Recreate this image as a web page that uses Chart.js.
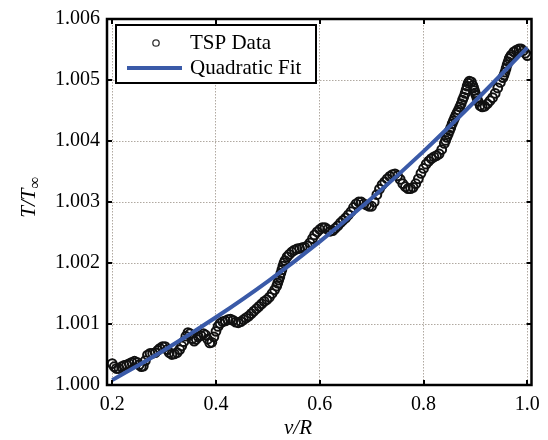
<!DOCTYPE html>
<html>
<head>
<meta charset="utf-8">
<script src="https://cdn.jsdelivr.net/npm/chart.js@4.4.1/dist/chart.umd.min.js"></script>
<style>
  html, body { margin: 0; padding: 0; background: #fff; }
  #wrap { width: 548px; height: 440px; position: relative; }
</style>
</head>
<body>
<div id="wrap"><canvas id="chart"></canvas></div>
<script>
/* ========================================
   T/T_inf vs v/R — TSP data + quadratic fit
   ======================================== */

const xTicks = [0.2, 0.4, 0.6, 0.8, 1.0];
const yTicks = [1.000, 1.001, 1.002, 1.003, 1.004, 1.005, 1.006];

// TSP data
const tspX = [
  0.200, 0.204, 0.208, 0.213, 0.218, 0.223, 0.228, 0.233, 0.238, 0.243,
  0.248, 0.252, 0.256, 0.260, 0.264, 0.268, 0.273, 0.278, 0.283, 0.288,
  0.292, 0.297, 0.302, 0.306, 0.310, 0.315, 0.320, 0.325, 0.330, 0.334,
  0.338, 0.342, 0.346, 0.350, 0.354, 0.358, 0.362, 0.366, 0.371, 0.376,
  0.380, 0.384, 0.388, 0.392, 0.396, 0.400, 0.404, 0.408, 0.413, 0.418,
  0.423, 0.428, 0.433, 0.438, 0.443, 0.448, 0.453, 0.458, 0.463, 0.468,
  0.473, 0.478, 0.483, 0.488, 0.493, 0.498, 0.503, 0.508, 0.513, 0.517,
  0.519, 0.521, 0.523, 0.525, 0.527, 0.529, 0.531, 0.533, 0.537, 0.541,
  0.546, 0.551, 0.556, 0.561,
  0.566, 0.571, 0.576, 0.581, 0.586, 0.590, 0.595, 0.600, 0.605, 0.610,
  0.615, 0.620, 0.625, 0.630, 0.635, 0.640, 0.645, 0.650, 0.655, 0.660,
  0.665, 0.670, 0.675, 0.680, 0.685, 0.690, 0.695, 0.700, 0.705, 0.710,
  0.715, 0.720, 0.725, 0.730, 0.735, 0.740, 0.745, 0.750, 0.755, 0.760,
  0.765, 0.770, 0.775, 0.780, 0.785, 0.790, 0.795, 0.800, 0.805, 0.810,
  0.815, 0.820, 0.825, 0.830, 0.835, 0.840, 0.8425, 0.845, 0.8475, 0.850,
  0.8525, 0.855, 0.8575, 0.860, 0.8625, 0.865, 0.8675, 0.870, 0.8725, 0.875,
  0.8775, 0.880, 0.882, 0.884, 0.886, 0.888, 0.892, 0.895, 0.8965, 0.898,
  0.8995, 0.901, 0.903, 0.905, 0.909, 0.913, 0.918, 0.923, 0.928, 0.933,
  0.938, 0.943, 0.948, 0.953, 0.955, 0.957, 0.959, 0.961, 0.963, 0.965,
  0.967, 0.969, 0.974, 0.979, 0.984, 0.988, 0.992, 0.996, 1.000,
];
const tspT = [
  1.00035, 1.00030, 1.00027, 1.00027, 1.00030, 1.00032, 1.00033, 1.00035, 1.00037, 1.00039,
  1.00037, 1.00033, 1.00030, 1.00031, 1.00040, 1.00049, 1.00052, 1.00052, 1.00053, 1.00057,
  1.00060, 1.00063, 1.00063, 1.00058, 1.00053, 1.00050, 1.00051, 1.00053, 1.00058, 1.00064,
  1.00071, 1.00080, 1.00086, 1.00084, 1.00076, 1.00072, 1.00075, 1.00079, 1.00081, 1.00084,
  1.00082, 1.00075, 1.00069, 1.00070, 1.00079, 1.00088, 1.00096, 1.00101, 1.00104, 1.00105,
  1.00107, 1.00108, 1.00106, 1.00103, 1.00102, 1.00104, 1.00107, 1.00110, 1.00113, 1.00117,
  1.00121, 1.00125, 1.00129, 1.00133, 1.00137, 1.00140, 1.00144, 1.00150, 1.00156, 1.00162,
  1.00167, 1.00172, 1.00177, 1.00183, 1.00189, 1.00195, 1.00200, 1.00204, 1.00210, 1.00214,
  1.00218, 1.00221, 1.00223, 1.00224,
  1.00225, 1.00226, 1.00228, 1.00233, 1.00240, 1.00246, 1.00251, 1.00255, 1.00258, 1.00258,
  1.00255, 1.00252, 1.00253, 1.00257, 1.00261, 1.00266, 1.00270, 1.00274, 1.00279, 1.00284,
  1.00291, 1.00297, 1.00300, 1.00300, 1.00297, 1.00295, 1.00293, 1.00293, 1.00300, 1.00312,
  1.00321, 1.00328, 1.00333, 1.00338, 1.00342, 1.00345, 1.00346, 1.00343, 1.00337, 1.00330,
  1.00325, 1.00322, 1.00322, 1.00324, 1.00330, 1.00338, 1.00347, 1.00355, 1.00362, 1.00367,
  1.00371, 1.00374, 1.00376, 1.00379, 1.00386, 1.00396, 1.00401, 1.00406, 1.00411, 1.00417,
  1.00422, 1.00428, 1.00433, 1.00438, 1.00443, 1.00447, 1.00451, 1.00456, 1.00461, 1.00467,
  1.00472, 1.00478, 1.00484, 1.00490, 1.00495, 1.00498, 1.00497, 1.00491, 1.00487, 1.00483,
  1.00479, 1.00475, 1.00470, 1.00465, 1.00458, 1.00456, 1.00457, 1.00461, 1.00466, 1.00471,
  1.00478, 1.00487, 1.00496, 1.00504, 1.00508, 1.00513, 1.00519, 1.00525, 1.00530, 1.00535,
  1.00538, 1.00541, 1.00546, 1.00549, 1.00551, 1.00551, 1.00548, 1.00544, 1.00540,
];

// Quadratic fit
const fitX = [0.2, 0.3, 0.4, 0.5, 0.6, 0.7, 0.8, 0.9, 1.0];
const fitT = [1.00008, 1.00057, 1.00111, 1.00170, 1.00235, 1.00306, 1.00383, 1.00466, 1.00553];

const FIT_BLUE = "#3a5aa8";
const SERIF = "'Liberation Serif', 'DejaVu Serif', serif";

/**
 * Frame, inward tick marks, axis titles and the boxed legend.
 */
const decorations = {
  id: "decorations",
  afterDatasetsDraw(chart) {
    const { ctx, chartArea: a, scales } = chart;
    const xs = scales.x;
    const ys = scales.y;

    ctx.save();
    ctx.strokeStyle = "#000";

    // inward tick marks on all four sides
    ctx.lineWidth = 2;
    const tl = 5;
    ctx.beginPath();
    xTicks.forEach((v) => {
      const px = Math.round(xs.getPixelForValue(v));
      ctx.moveTo(px, a.bottom);
      ctx.lineTo(px, a.bottom - tl);
      ctx.moveTo(px, a.top);
      ctx.lineTo(px, a.top + tl);
    });
    yTicks.forEach((v) => {
      const py = Math.round(ys.getPixelForValue(v));
      ctx.moveTo(a.left, py);
      ctx.lineTo(a.left + tl, py);
      ctx.moveTo(a.right, py);
      ctx.lineTo(a.right - tl, py);
    });
    ctx.stroke();

    // frame
    ctx.lineWidth = 2.5;
    ctx.strokeRect(a.left, a.top, a.right - a.left, a.bottom - a.top);

    // legend box
    const lx = 116, ly = 25, lw = 200, lh = 58;
    ctx.fillStyle = "#fff";
    ctx.fillRect(lx, ly, lw, lh);
    ctx.lineWidth = 2;
    ctx.strokeRect(lx, ly, lw, lh);

    ctx.beginPath();
    ctx.lineWidth = 1.3;
    ctx.strokeStyle = "#333";
    ctx.arc(156, 43, 3.2, 0, Math.PI * 2);
    ctx.stroke();

    ctx.beginPath();
    ctx.lineWidth = 4;
    ctx.strokeStyle = FIT_BLUE;
    ctx.moveTo(127, 68);
    ctx.lineTo(182, 68);
    ctx.stroke();

    ctx.fillStyle = "#000";
    ctx.font = `21px ${SERIF}`;
    ctx.textAlign = "left";
    ctx.textBaseline = "middle";
    ctx.fillText("TSP Data", 190, 43);
    ctx.fillText("Quadratic Fit", 190, 68);

    // x axis title
    ctx.font = `italic 21px ${SERIF}`;
    ctx.textAlign = "center";
    ctx.fillText("v/R", 298, 428);

    // y axis title, with the ∞ subscript
    ctx.translate(28, 197);
    ctx.rotate(-Math.PI / 2);
    ctx.textAlign = "left";
    ctx.textBaseline = "alphabetic";
    const main = "T/T";
    const w = ctx.measureText(main).width;
    ctx.font = `17px ${SERIF}`;
    const ws = ctx.measureText("\u221e").width;
    const x0 = -(w + ws) / 2;
    ctx.font = `italic 21px ${SERIF}`;
    ctx.fillText(main, x0, 7);
    ctx.font = `17px ${SERIF}`;
    ctx.fillText("\u221e", x0 + w, 12);

    ctx.restore();
  },
};

const tspPoints = tspX.map((x, i) => ({ x, y: tspT[i] }));
const fitPoints = fitX.map((x, i) => ({ x, y: fitT[i] }));

new Chart(document.getElementById("chart"), {
  type: "scatter",
  data: {
    datasets: [
      {
        label: "Quadratic Fit",
        data: fitPoints,
        showLine: true,
        borderColor: FIT_BLUE,
        borderWidth: 4,
        pointRadius: 0,
        tension: 0.4,
        order: 0,
      },
      {
        label: "TSP Data",
        data: tspPoints,
        pointStyle: "circle",
        pointRadius: 4.4,
        pointBorderWidth: 2,
        pointBorderColor: "#111",
        pointBackgroundColor: "rgba(0,0,0,0)",
        order: 1,
      },
    ],
  },
  options: {
    responsive: true,
    maintainAspectRatio: false,
    animation: false,
    layout: { padding: { top: 16, right: 16, left: 0, bottom: 0 } },
    plugins: {
      legend: { display: false },
      tooltip: { enabled: false },
    },
    scales: {
      x: {
        type: "linear",
        min: 0.19,
        max: 1.008,
        afterBuildTicks: (scale) => {
          scale.ticks = xTicks.map((v) => ({ value: v }));
        },
        afterFit: (scale) => {
          scale.height = 55;
        },
        grid: {
          color: "rgba(150,140,130,0.75)",
          lineWidth: 1,
          drawTicks: false,
        },
        border: { display: false, dash: [1.5, 1.5] },
        ticks: {
          color: "#000",
          padding: 8,
          font: { family: SERIF, size: 20 },
          maxRotation: 0,
          callback: (v) => v.toFixed(1),
        },
      },
      y: {
        type: "linear",
        min: 1.0,
        max: 1.006,
        afterBuildTicks: (scale) => {
          scale.ticks = yTicks.map((v) => ({ value: v }));
        },
        afterFit: (scale) => {
          scale.width = 107;
        },
        grid: {
          color: "rgba(150,140,130,0.75)",
          lineWidth: 1,
          drawTicks: false,
        },
        border: { display: false, dash: [1.5, 1.5] },
        ticks: {
          color: "#000",
          padding: 7,
          font: { family: SERIF, size: 20 },
          callback: (v) => v.toFixed(3),
        },
      },
    },
  },
  plugins: [decorations],
});
</script>
</body>
</html>
